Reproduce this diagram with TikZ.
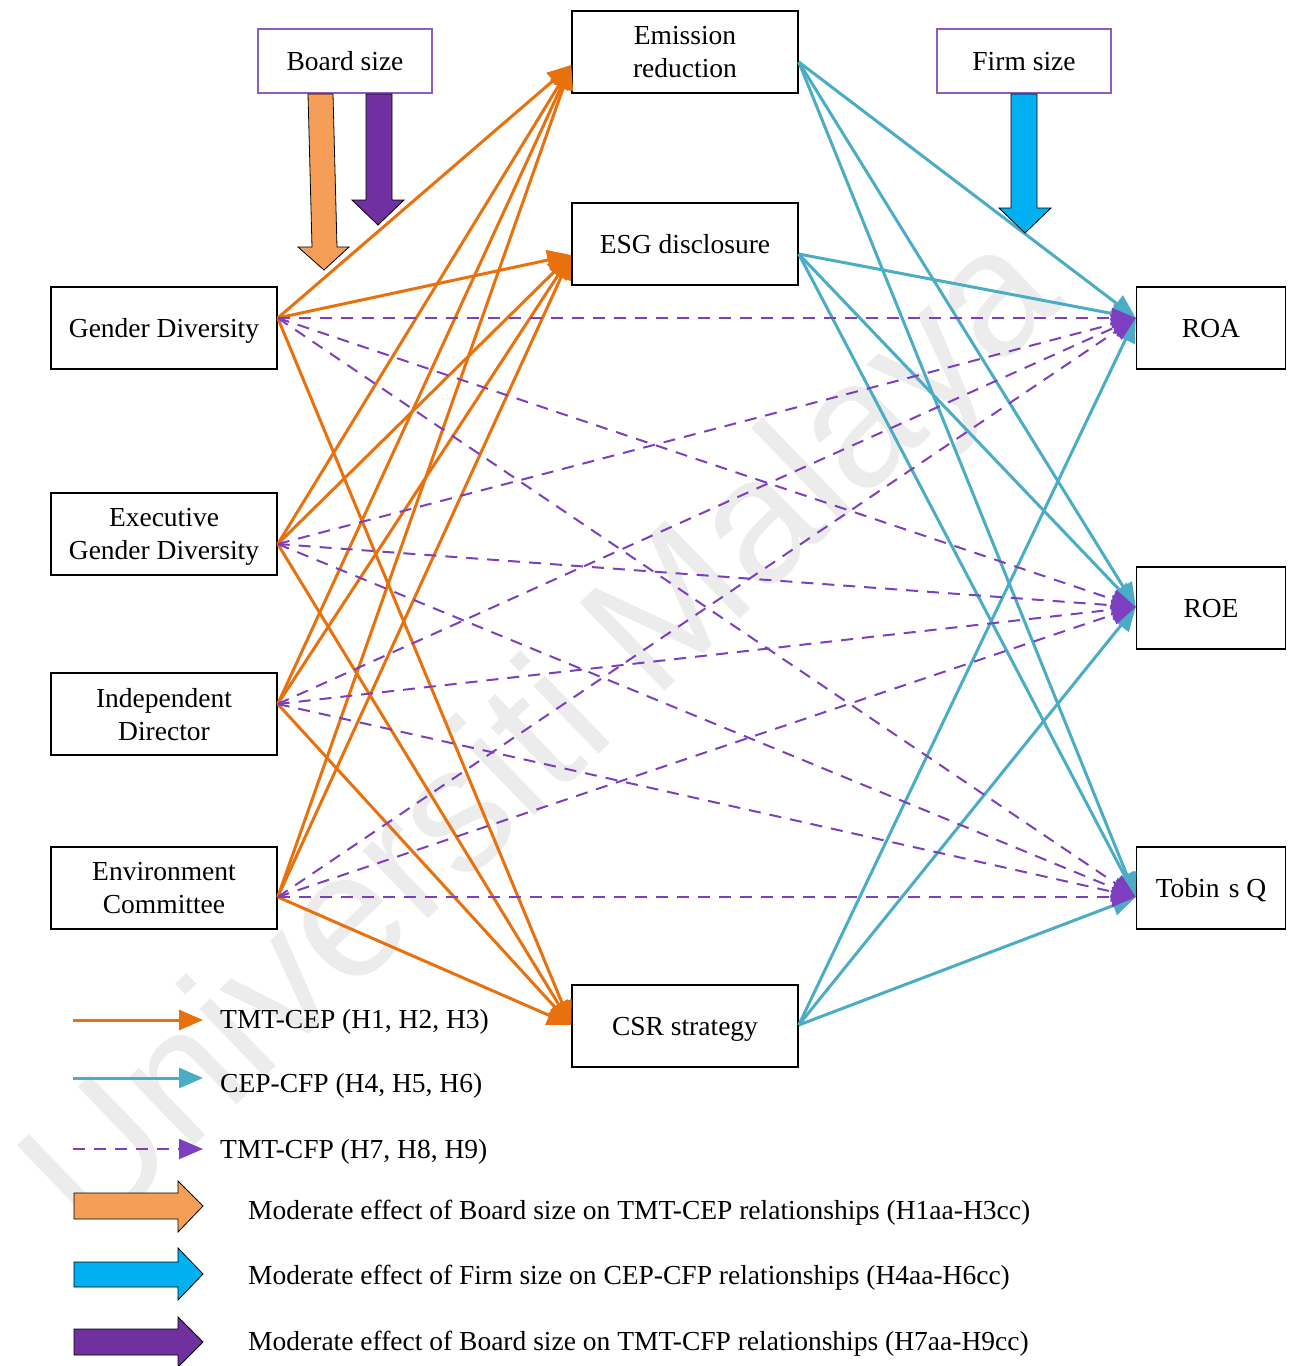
\documentclass[tikz,border=0pt]{standalone}
\usepackage{fontspec}
\setmainfont{Liberation Serif}
\newfontfamily\wmfont{Liberation Sans}
\usetikzlibrary{arrows.meta,calc}
\definecolor{cep}{HTML}{E8710E}
\definecolor{cfp}{HTML}{4BACC6}
\definecolor{tmt}{HTML}{7B3FBF}
\definecolor{modor}{HTML}{F49E58}
\definecolor{modbl}{HTML}{00B0F0}
\definecolor{modpu}{HTML}{7030A0}
\definecolor{boxpu}{HTML}{8F5CC2}
\definecolor{wm}{HTML}{ECECEC}
\begin{document}
\begin{tikzpicture}[x=1pt,y=-1pt,
  every node/.style={font=\fontsize{27.5}{33}\selectfont},
  vbox/.style={draw=black,line width=1.5pt,minimum width=226pt,minimum height=82pt,inner sep=0pt,align=center,text depth=0pt},
  rbox/.style={draw=black,line width=1.5pt,minimum width=149pt,minimum height=82pt,inner sep=0pt,align=center,text depth=0pt},
  mbox/.style={draw=boxpu,line width=1.3pt,minimum width=174pt,minimum height=64pt,inner sep=0pt,align=center,text depth=0pt},
  cepline/.style={draw=cep,line width=3pt,-{Triangle[length=24pt,width=20pt]}},
  cfpline/.style={draw=cfp,line width=3pt,-{Triangle[length=24pt,width=20pt]}},
  tmtline/.style={draw=tmt,line width=2pt,dash pattern=on 12pt off 9pt,-{Triangle[length=24pt,width=20pt]}},
  bigarrow/.style={draw=black,line width=0.8pt,line join=miter},
  legtext/.style={anchor=west,inner sep=0pt,text depth=0pt}
]
\useasboundingbox (0,0) rectangle (1292,1366);
% watermark
\node[font=\wmfont\fontsize{178}{178}\selectfont,text=wm,rotate=44,inner sep=0pt] (wmark) at (548,740) {Universiti Malaya};

% nodes
\node[mbox] (bs) at (345,61) {Board size};
\node[mbox] (fs) at (1024,61) {Firm size};
\node[vbox] (er) at (685,52) {Emission\\reduction};
\node[vbox] (esg) at (685,244) {ESG disclosure};
\node[vbox] (csr) at (685,1026) {CSR strategy};
\node[vbox] (gd) at (164,328) {Gender Diversity};
\node[vbox] (egd) at (164,534) {Executive\\Gender Diversity};
\node[vbox] (id) at (164,714) {Independent\\Director};
\node[vbox] (ec) at (164,888) {Environment\\Committee};
\node[rbox] (roa) at (1211,328) {ROA};
\node[rbox] (roe) at (1211,608) {ROE};
\node[rbox] (tq) at (1211,888) {Tobin\,\,s Q};

% connection points
\coordinate (gdR) at ($(gd.east)+(0,-10)$);
\coordinate (egdR) at ($(egd.east)+(0,10)$);
\coordinate (idR) at ($(id.east)+(0,-10)$);
\coordinate (ecR) at ($(ec.east)+(0,9)$);
\coordinate (erL) at ($(er.west)+(0,13)$);
\coordinate (esgL) at ($(esg.west)+(0,11)$);
\coordinate (csrL) at ($(csr.west)+(0,-1)$);
\coordinate (erR) at ($(er.east)+(0,10)$);
\coordinate (esgR) at ($(esg.east)+(0,10)$);
\coordinate (csrR) at ($(csr.east)+(0,-1)$);
\coordinate (roaL) at ($(roa.west)+(0,-10)$);
\coordinate (roeL) at ($(roe.west)+(0,-1)$);
\coordinate (tqL) at ($(tq.west)+(0,9)$);

% TMT-CEP
\foreach \s in {gdR,egdR,idR,ecR}{
  \foreach \t in {erL,esgL,csrL}{
    \draw[cepline] (\s) -- (\t);
  }
}
% CEP-CFP
\foreach \s in {erR,esgR,csrR}{
  \foreach \t in {roaL,roeL,tqL}{
    \draw[cfpline] (\s) -- (\t);
  }
}
% TMT-CFP
\foreach \s in {gdR,egdR,idR,ecR}{
  \foreach \t in {roaL,roeL,tqL}{
    \draw[tmtline] (\s) -- (\t);
  }
}

% moderator arrows
\draw[bigarrow,fill=modor] (308,94) -- (333,94) -- (337,247) -- (349,247) -- (324,270) -- (298,247) -- (312,247) -- cycle;
\draw[bigarrow,fill=modpu] (366,94) -- (392,94) -- (392,200) -- (404,200) -- (378,225) -- (352,200) -- (366,200) -- cycle;
\draw[bigarrow,fill=modbl] (1011,94) -- (1037,94) -- (1037,208) -- (1051,208) -- (1025,233) -- (999,208) -- (1011,208) -- cycle;

% legend
\coordinate (l1a) at (73,1020); \coordinate (l1b) at (203,1020);
\coordinate (l2a) at (73,1078); \coordinate (l2b) at (203,1078);
\coordinate (l3a) at (73,1149); \coordinate (l3b) at (203,1149);
\draw[cepline] (l1a) -- (l1b);
\draw[cfpline] (l2a) -- (l2b);
\draw[tmtline] (l3a) -- (l3b);
\node[legtext] (t1) at (220,1019) {TMT-CEP (H1, H2, H3)};
\node[legtext] (t2) at (220,1083) {CEP-CFP (H4, H5, H6)};
\node[legtext] (t3) at (220,1149) {TMT-CFP (H7, H8, H9)};

\draw[bigarrow,fill=modor] (74,1193) -- (178,1193) -- (178,1181) -- (203,1206) -- (178,1232) -- (178,1219) -- (74,1219) -- cycle;
\draw[bigarrow,fill=modbl] (74,1262) -- (178,1262) -- (178,1248) -- (203,1274) -- (178,1300) -- (178,1287) -- (74,1287) -- cycle;
\draw[bigarrow,fill=modpu] (74,1329) -- (178,1329) -- (178,1317) -- (203,1342) -- (178,1367) -- (178,1355) -- (74,1355) -- cycle;
\node[legtext] (t4) at (248,1210) {Moderate effect of Board size on TMT-CEP relationships (H1aa-H3cc)};
\node[legtext] (t5) at (248,1275) {Moderate effect of Firm size on CEP-CFP relationships (H4aa-H6cc)};
\node[legtext] (t6) at (248,1341) {Moderate effect of Board size on TMT-CFP relationships (H7aa-H9cc)};
\end{tikzpicture}
\end{document}
